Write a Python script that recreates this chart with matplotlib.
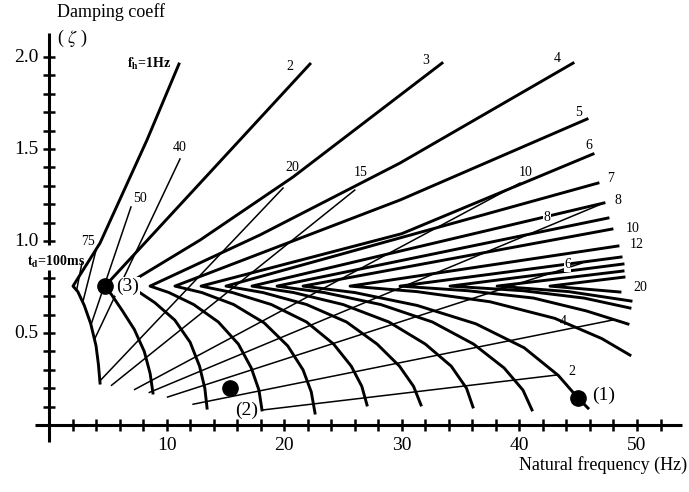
import matplotlib
matplotlib.use('Agg')
import matplotlib.pyplot as plt

plt.rcParams['font.family'] = ['Liberation Serif', 'DejaVu Serif']
plt.rcParams['mathtext.fontset'] = 'stix'

# ---------------- data (natural frequency Hz, damping ratio) ----------------
fh_values = [1, 2, 3, 4, 5, 6, 7, 8, 9, 10, 12, 14, 16, 18, 20]
# each constant-fh curve: lower-branch end -> vertex -> upper-branch end
fh_freq = {
    1: [4.34, 4.20, 4.00, 3.55, 3.00, 2.45, 2.04, 4.34, 8.33, 11.05],
    2: [8.84, 8.60, 8.10, 7.25, 6.20, 5.30, 4.76, 13.5, 22.19],
    3: [13.44, 13.25, 12.80, 12.00, 10.70, 9.00, 7.60, 6.38, 12.84, 20.75, 33.42],
    4: [18.11, 17.85, 17.20, 16.10, 14.40, 12.30, 10.20, 8.59, 17.94, 29.85, 44.56],
    5: [22.62, 22.30, 21.60, 20.30, 18.30, 15.70, 13.00, 10.71, 29.85, 45.75],
    6: [27.04, 26.60, 25.70, 24.20, 21.90, 18.90, 15.60, 12.93, 30.0, 46.26],
    7: [31.63, 31.00, 29.80, 27.90, 25.30, 21.90, 18.20, 15.05, 46.68],
    8: [36.05, 35.50, 34.20, 32.00, 28.90, 25.00, 20.80, 17.26, 47.19],
    9: [41.07, 40.30, 38.70, 36.10, 32.60, 28.20, 23.40, 19.39, 47.53],
    10: [45.83, 44.98, 43.30, 40.40, 36.30, 31.30, 26.00, 21.60, 47.87],
    12: [49.40, 47.00, 43.00, 37.50, 31.30, 25.60, 48.38],
    14: [49.23, 45.70, 41.20, 35.60, 29.85, 48.64],
    16: [49.40, 45.50, 40.30, 34.10, 48.81],
    18: [49.49, 44.20, 38.10, 48.81],
    20: [48.55, 42.60, 48.89],
}
fh_zeta = {
    1: [0.228, 0.330, 0.430, 0.550, 0.650, 0.725, 0.755, 0.989, 1.549, 1.962],
    2: [0.174, 0.280, 0.400, 0.520, 0.625, 0.710, 0.755, 1.36, 1.962],
    3: [0.092, 0.200, 0.320, 0.450, 0.570, 0.665, 0.725, 0.755, 1.005, 1.348, 1.967],
    4: [0.082, 0.190, 0.310, 0.440, 0.560, 0.655, 0.720, 0.755, 1.033, 1.424, 1.967],
    5: [0.065, 0.180, 0.300, 0.430, 0.555, 0.655, 0.720, 0.755, 1.223, 1.663],
    6: [0.109, 0.210, 0.320, 0.440, 0.560, 0.655, 0.720, 0.755, 1.040, 1.473],
    7: [0.109, 0.210, 0.320, 0.440, 0.560, 0.655, 0.720, 0.755, 1.315],
    8: [0.098, 0.200, 0.320, 0.440, 0.560, 0.655, 0.720, 0.755, 1.207],
    9: [0.082, 0.190, 0.310, 0.440, 0.560, 0.655, 0.720, 0.755, 1.125],
    10: [0.092, 0.147, 0.270, 0.420, 0.550, 0.650, 0.720, 0.755, 1.065],
    12: [0.380, 0.470, 0.580, 0.670, 0.725, 0.755, 0.973],
    14: [0.549, 0.620, 0.690, 0.730, 0.755, 0.913],
    16: [0.636, 0.690, 0.730, 0.755, 0.875],
    18: [0.674, 0.725, 0.755, 0.837],
    20: [0.723, 0.755, 0.804],
}

td_values = [2, 4, 6, 8, 10, 15, 20, 40, 50, 75, 100]
td_freq = {
    2: [18.20, 43.20],
    4: [12.25, 47.96],
    6: [10.08, 45.32],
    8: [8.53, 47.19],
    10: [7.28, 40.05],
    15: [5.32, 26.00],
    20: [4.33, 19.90],
    40: [3.90, 11.14],
    50: [3.56, 6.97],
    75: [2.90, 4.00],
    100: [2.35, 2.80],
}
td_zeta = {
    2: [0.082, 0.272],
    4: [0.113, 0.571],
    6: [0.152, 0.880],
    8: [0.177, 1.207],
    10: [0.193, 1.315],
    15: [0.216, 1.277],
    20: [0.240, 1.288],
    40: [0.470, 1.446],
    50: [0.543, 1.185],
    75: [0.675, 0.951],
    100: [0.733, 0.880],
}

points_f = [44.98, 15.39, 4.76]
points_z = [0.147, 0.201, 0.755]
points_lbl = ['(1)', '(2)', '(3)']

# ---------------- figure ----------------
fig = plt.figure(figsize=(6.89, 4.92), dpi=100)
ax = fig.add_axes([0, 0, 1, 1])
ax.set_xlim(-4.167, 54.42)
ax.set_ylim(-0.364, 2.310)
ax.axis('off')

# axes drawn by hand
ax.plot([-1.2, 53.8], [0, 0], color='k', lw=2.2, solid_capstyle='butt')
ax.plot([0, 0], [-0.09, 0.84], color='k', lw=2.2, solid_capstyle='butt')
ax.plot([0, 0], [0.98, 2.13], color='k', lw=2.2, solid_capstyle='butt')
xt = [x for x in range(2, 53, 2)]
ax.plot(xt, [0]*len(xt), ls='none', marker='|', ms=9, mew=1.8, color='k')
yt = [i/10 for i in range(1, 21) if i not in (9,)]
ax.plot([0]*len(yt), yt, ls='none', marker='_', ms=9, mew=1.8, color='k')
for v in (10, 20, 30, 40, 50):
    ax.text(v, -0.065, str(v), ha='center', va='top', fontsize=14)
for v, s in ((0.5, '0.5'), (1.0, '1.0'), (1.5, '1.5'), (2.0, '2.0')):
    ax.text(-0.9, v, s, ha='right', va='center', fontsize=14)
ax.text(0.7, 2.245, 'Damping coeff', ha='left', va='center', fontsize=13)
ax.text(0.7, 2.10, r'( $\zeta$ )', ha='left', va='center', fontsize=13)
ax.text(54.3, -0.22, 'Natural frequency (Hz)', ha='right', va='center', fontsize=13)

# constant-fh curves (thick)
for fh in fh_values:
    ax.plot(fh_freq[fh], fh_zeta[fh], color='k', lw=2.1, solid_joinstyle='round')
# constant-td curves (thin)
for td in td_values:
    ax.plot(td_freq[td], td_zeta[td], color='k', lw=1.1)

# labels of curves
ax.text(6.6, 1.962, r'$\mathbf{f_h}$=1Hz', fontsize=10, fontweight='bold', ha='left', va='center')
ax.text(-1.87, 0.886, r'$\mathbf{t_d}$=100ms', fontsize=10, fontweight='bold', ha='left', va='center')
fh_lbl = [('2', 20.2, 1.95), ('3', 31.7, 1.98), ('4', 42.9, 1.99), ('5', 44.7, 1.70),
          ('6', 45.6, 1.52), ('7', 47.5, 1.34), ('8', 48.1, 1.22), ('10', 49.0, 1.07),
          ('12', 49.4, 0.98), ('20', 49.7, 0.745)]
for s, x, y in fh_lbl:
    ax.text(x, y, s, fontsize=10, ha='left', va='center')
td_lbl = [('75', 3.3, 1.0), ('50', 7.7, 1.23), ('40', 11.1, 1.51), ('20', 20.7, 1.40),
          ('15', 26.5, 1.375), ('10', 40.5, 1.375), ('4', 43.7, 0.56), ('2', 44.5, 0.29)]
for s, x, y in td_lbl:
    ax.text(x, y, s, fontsize=10, ha='center', va='center')
for s, x, y in (('8', 42.35, 1.13), ('6', 44.1, 0.87)):
    ax.text(x, y, s, fontsize=10, ha='center', va='center',
            bbox=dict(facecolor='white', edgecolor='none', pad=0.3))

# marked points
ax.plot(points_f, points_z, ls='none', marker='o', ms=11, color='k')
ax.text(46.2, 0.16, points_lbl[0], fontsize=14, ha='left', va='center')
ax.text(17.8, 0.08, points_lbl[1], fontsize=14, ha='right', va='center')
ax.text(5.7, 0.755, points_lbl[2], fontsize=14, ha='left', va='center',
        bbox=dict(facecolor='white', edgecolor='none', pad=0.5))

fig.savefig('out.png', dpi=100)
